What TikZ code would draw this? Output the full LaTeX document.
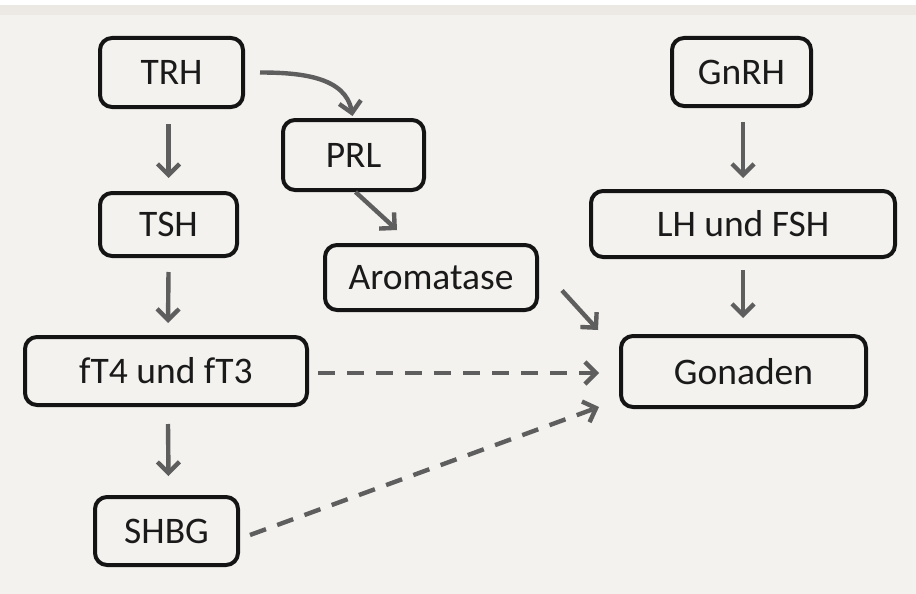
\documentclass[tikz,border=0pt]{standalone}
\usepackage{fontspec}
\setmainfont{Carlito}
\usetikzlibrary{arrows.meta,calc}
\definecolor{bg}{HTML}{F3F2EE}
\definecolor{band}{HTML}{ECE9E4}
\definecolor{arr}{HTML}{5E5E5E}
\definecolor{txt}{HTML}{1A1A1A}
\tikzset{
  box/.style={draw=black!92, line width=4pt, rounded corners=12pt, fill=bg,
    text=txt, font=\fontsize{37.5}{42}\selectfont, inner sep=0pt, anchor=center},
  conn/.style={draw=arr, line width=4.4pt, -{Straight Barb[length=11pt,width=22pt]}},
  dconn/.style={conn, dash pattern=on 17pt off 12pt},
}
\begin{document}
\begin{tikzpicture}[x=1pt,y=-1pt]
\useasboundingbox (0,0) rectangle (916,594);
\fill[white] (0,0) rectangle (916,594);
\fill[bg] (0,5) rectangle (916,594);
\fill[band] (0,5) rectangle (916,15);

\node[box, minimum width=143pt, minimum height=69pt] (TRH) at (171.5,72.5) {TRH};
\node[box, minimum width=137pt, minimum height=63pt] (TSH) at (168.5,224.5) {TSH};
\node[box, minimum width=282pt, minimum height=68pt] (FT) at (166,371) {fT4 und fT3};
\node[box, minimum width=143pt, minimum height=68pt] (SHBG) at (166.5,531) {SHBG};
\node[box, minimum width=141pt, minimum height=70pt] (PRL) at (353.5,155) {PRL};
\node[box, minimum width=212pt, minimum height=65pt] (ARO) at (431,277.5) {Aromatase};
\node[box, minimum width=139pt, minimum height=68pt] (GNRH) at (741.5,72) {GnRH};
\node[box, minimum width=304pt, minimum height=66pt] (LH) at (743,224) {LH und FSH};
\node[box, minimum width=245pt, minimum height=71pt] (GON) at (743.5,371.5) {Gonaden};

\draw[conn] ($(TRH.south)+(-3,15)$) -- ($(TSH.north)+(0,-13)$);
\draw[conn] ($(TSH.south)+(0,14)$) -- ($(FT.north)+(2,-12)$);
\draw[conn] ($(FT.south)+(2,17)$) -- ($(SHBG.north)+(2,-19)$);
\draw[conn] ($(TRH.east)+(15,0)$) to[out=0,in=100] ($(PRL.north)+(-1,-2)$);
\draw[conn] ($(PRL.south)+(2,0)$) -- ($(ARO.north)+(-34,-13)$);
\draw[conn] ($(ARO.east)+(23,13)$) -- ($(GON.north west)+(-21,-4)$);
\draw[conn] ($(GNRH.south)+(1.5,14)$) -- ($(LH.north)+(0,-11)$);
\draw[conn] ($(LH.south)+(0,11)$) -- ($(GON.north)+(-0.5,-16)$);
\draw[dconn] ($(FT.east)+(9,2)$) -- ($(GON.west)+(-20,1.5)$);
\draw[dconn] ($(SHBG.east)+(10,4)$) -- ($(GON.south west)+(-20,-2)$);
\end{tikzpicture}
\end{document}
